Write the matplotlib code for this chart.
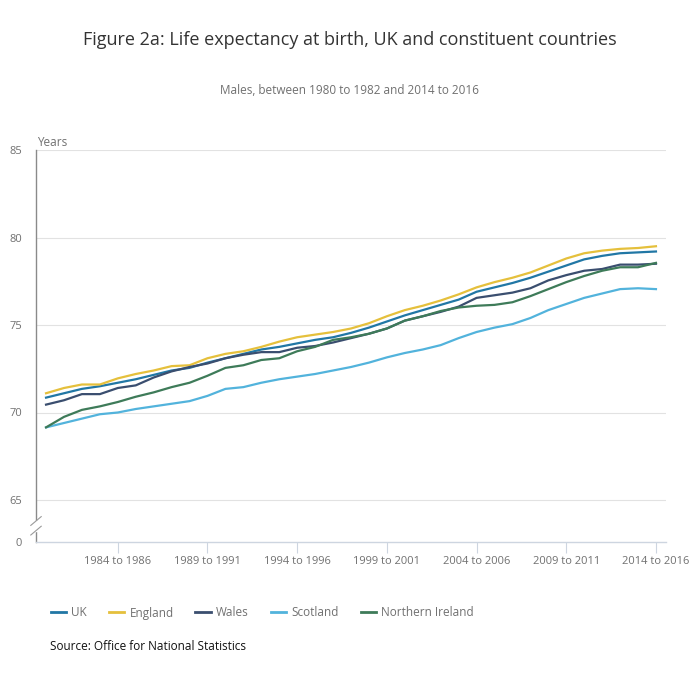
import matplotlib.pyplot as plt
from matplotlib.lines import Line2D
from matplotlib.patches import Rectangle

plt.rcParams['font.family'] = ['Open Sans', 'DejaVu Sans']

# periods 1980 to 1982 ... 2014 to 2016
periods = [f"{y} to {y + 2}" for y in range(1980, 2015)]

uk = [70.85, 71.1, 71.35, 71.5, 71.7, 71.9, 72.15, 72.4, 72.55, 72.85,
      73.1, 73.35, 73.6, 73.75, 73.95, 74.15, 74.3, 74.55, 74.85, 75.2,
      75.55, 75.85, 76.15, 76.45, 76.9, 77.15, 77.4, 77.7, 78.05, 78.4,
      78.75, 78.95, 79.1, 79.15, 79.2]
england = [71.1, 71.4, 71.6, 71.6, 71.95, 72.2, 72.4, 72.65, 72.7, 73.1,
           73.35, 73.5, 73.75, 74.05, 74.3, 74.45, 74.6, 74.8, 75.1, 75.5,
           75.85, 76.1, 76.4, 76.75, 77.15, 77.45, 77.7, 78.0, 78.4, 78.8,
           79.1, 79.25, 79.35, 79.4, 79.5]
wales = [70.45, 70.7, 71.05, 71.05, 71.4, 71.55, 72.0, 72.35, 72.6, 72.8,
         73.1, 73.3, 73.45, 73.45, 73.7, 73.8, 74.0, 74.25, 74.5, 74.8,
         75.25, 75.5, 75.75, 76.05, 76.55, 76.7, 76.85, 77.1, 77.55, 77.85,
         78.1, 78.2, 78.45, 78.45, 78.5]
scotland = [69.15, 69.4, 69.65, 69.9, 70.0, 70.2, 70.35, 70.5, 70.65, 70.95,
            71.35, 71.45, 71.7, 71.9, 72.05, 72.2, 72.4, 72.6, 72.85, 73.15,
            73.4, 73.6, 73.85, 74.25, 74.6, 74.85, 75.05, 75.4, 75.85, 76.2,
            76.55, 76.8, 77.05, 77.1, 77.05]
n_ireland = [69.15, 69.75, 70.15, 70.35, 70.6, 70.9, 71.15, 71.45, 71.7, 72.1,
             72.55, 72.7, 73.0, 73.1, 73.5, 73.75, 74.15, 74.3, 74.5, 74.8,
             75.25, 75.5, 75.8, 76.0, 76.1, 76.15, 76.3, 76.65, 77.05, 77.45,
             77.8, 78.1, 78.3, 78.3, 78.55]

series = [("UK", uk, "#2177a5"),
          ("England", england, "#e5c03c"),
          ("Wales", wales, "#3a4e6f"),
          ("Scotland", scotland, "#52b3dc"),
          ("Northern Ireland", n_ireland, "#3e7b59")]

# y axis is broken between 0 and 65; "0" sits at a fake position
zero_pos = 62.6
ytick_vals = [zero_pos, 65, 70, 75, 80, 85]
ytick_labels = ["0", "65", "70", "75", "80", "85"]
xtick_idx = list(range(4, 35, 5))

fig = plt.figure(figsize=(7, 6.92), dpi=100)
ax = fig.add_axes([36 / 700, 1 - 542 / 692, 630 / 700, 392 / 692])

x = list(range(len(periods)))
for name, vals, col in series:
    ax.plot(x, vals, color=col, lw=1.6, label=name, solid_joinstyle='round')

ax.set_xlim(-0.56, 34.56)
ax.set_ylim(zero_pos, 85)
ax.set_yticks(ytick_vals)
ax.set_yticklabels(ytick_labels)
ax.set_xticks(xtick_idx)
ax.set_xticklabels([periods[i] for i in xtick_idx])

for v in [65, 70, 75, 80, 85]:
    ax.axhline(v, color="#e2e2e2", lw=0.8, zorder=0)

for s in ["top", "right"]:
    ax.spines[s].set_visible(False)
ax.spines["left"].set_color("#8a8a8a")
ax.spines["left"].set_linewidth(1.0)
ax.spines["bottom"].set_color("#cdd5e0")
ax.spines["bottom"].set_linewidth(1.0)

ax.tick_params(axis="y", length=0, pad=10, labelsize=8, labelcolor="#707070")
ax.tick_params(axis="x", length=8, width=0.8, color="#cdd5e0", pad=2,
               labelsize=8, labelcolor="#707070")

# axis break marks
ax.add_patch(Rectangle((-0.9, 63.25), 0.7, 0.55, color="white", clip_on=False, zorder=5))
for y0 in [63.25, 63.8]:
    ax.plot([-0.85, -0.27], [y0 - 0.25, y0 + 0.25], color="#9a9a9a", lw=0.8,
            clip_on=False, zorder=6)

fig.text(37 / 700, 1 - 143 / 692, "Years", fontsize=8.5, color="#707070", va="center")

fig.text(0.5, 1 - 40 / 692,
         "Figure 2a: Life expectancy at birth, UK and constituent countries",
         ha="center", va="center", fontsize=13, color="#333333")
fig.text(0.5, 1 - 91 / 692, "Males, between 1980 to 1982 and 2014 to 2016",
         ha="center", va="center", fontsize=8.5, color="#707070")

handles = [Line2D([0], [0], color=c, lw=2) for _, _, c in series]
leg = fig.legend(handles, [s[0] for s in series], loc="center left",
                 bbox_to_anchor=(40 / 700, 1 - 613 / 692), ncol=5, frameon=False,
                 fontsize=8.5, handlelength=1.3, handletextpad=0.45,
                 columnspacing=1.85)
for t in leg.get_texts():
    t.set_color("#707070")

fig.text(50 / 700, 1 - 647 / 692, "Source: Office for National Statistics",
         fontsize=8.5, color="#111111", va="center")

fig.savefig("out.png", dpi=100)
